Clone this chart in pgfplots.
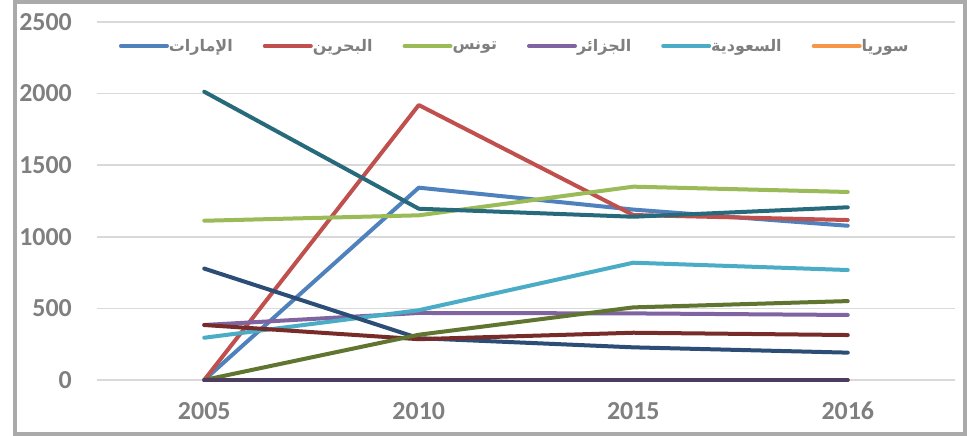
\documentclass[border=0pt]{standalone}
\usepackage{fontspec}
\usepackage{pgfplots}
\pgfplotsset{compat=1.18}
\setmainfont{Carlito}
\newfontfamily\arabicfont[Script=Arabic]{DejaVu Sans}
\TeXXeTstate=1
\definecolor{s1}{HTML}{4F81BD}
\definecolor{s2}{HTML}{C0504D}
\definecolor{s3}{HTML}{9BBB59}
\definecolor{s4}{HTML}{8064A2}
\definecolor{s5}{HTML}{4BACC6}
\definecolor{s6}{HTML}{F79646}
\definecolor{s7}{HTML}{2C4D75}
\definecolor{s8}{HTML}{772C2A}
\definecolor{s9}{HTML}{5F7530}
\definecolor{s10}{HTML}{4D3B62}
\definecolor{s11}{HTML}{276A7C}
\definecolor{tickgray}{HTML}{7F7F7F}
\definecolor{gridgray}{HTML}{D9D9D9}
\definecolor{framegray}{HTML}{AAAAAA}
\newcommand{\ar}[1]{{\arabicfont\bfseries\fontsize{16}{19}\selectfont\beginR #1\endR}}
\begin{document}
\begin{tikzpicture}[x=1bp,y=1bp]
\useasboundingbox (0,0) rectangle (967,436);
\fill[white] (0,0) rectangle (967,436);
\draw[framegray, line width=4bp] (15,2) rectangle (965,434);
\begin{axis}[
  at={(97bp,56bp)}, anchor=south west,
  scale only axis, width=858bp, height=358bp,
  xmin=-0.5, xmax=3.5, ymin=0, ymax=2500,
  axis line style={draw=none},
  xtick={0,1,2,3}, xticklabels={2005,2010,2015,2016},
  ytick={0,500,1000,1500,2000,2500},
  major tick length=0pt,
  ymajorgrids, grid style={gridgray, line width=1.5bp},
  /pgf/number format/assume math mode=true,
  /pgf/number format/.cd, 1000 sep={}, /pgfplots/.cd,
  ticklabel style={font=\fontsize{26}{30}\selectfont\bfseries, text=tickgray, inner sep=0pt},
  yticklabel style={anchor=east, xshift=-25bp},
  xticklabel style={anchor=north, yshift=-22bp},
  clip=false,
  every axis plot/.append style={line width=4bp, line cap=round, line join=round, mark=none},
  legend columns=-1,
  legend style={at={(axis description cs:0.0256,0.933)}, anchor=west, draw=none, fill=none,
    inner sep=0pt, outer sep=0pt, nodes={inner sep=0pt, text=tickgray},
    /tikz/every even column/.append style={column sep=30bp}},
  legend image code/.code={\draw[#1, line width=4bp, line cap=round] (0bp,0bp) -- (46bp,0bp);},
]
\addplot[s1] coordinates {(0,0) (1,1343) (2,1190) (3,1077)};
\addlegendentry{\ar{الإمارات}}
\addplot[s2] coordinates {(0,0) (1,1920) (2,1152) (3,1117)};
\addlegendentry{\ar{البحرين}}
\addplot[s3] coordinates {(0,1112) (1,1150) (2,1350) (3,1313)};
\addlegendentry{\ar{تونس}}
\addplot[s4] coordinates {(0,384) (1,468) (2,465) (3,454)};
\addlegendentry{\ar{الجزائر}}
\addplot[s5] coordinates {(0,295) (1,487) (2,819) (3,768)};
\addlegendentry{\ar{السعودية}}
\addplot[s6] coordinates {(0,0) (1,0) (2,0) (3,0)};
\addlegendentry{\ar{سوريا}}
\addplot[s7, forget plot] coordinates {(0,778) (1,292) (2,228) (3,191)};
\addplot[s8, forget plot] coordinates {(0,384) (1,285) (2,330) (3,314)};
\addplot[s9, forget plot] coordinates {(0,0) (1,316) (2,507) (3,551)};
\addplot[s10, forget plot] coordinates {(0,0) (1,0) (2,0) (3,0)};
\addplot[s11, forget plot] coordinates {(0,2013) (1,1196) (2,1140) (3,1206)};
\end{axis}
\end{tikzpicture}
\end{document}
